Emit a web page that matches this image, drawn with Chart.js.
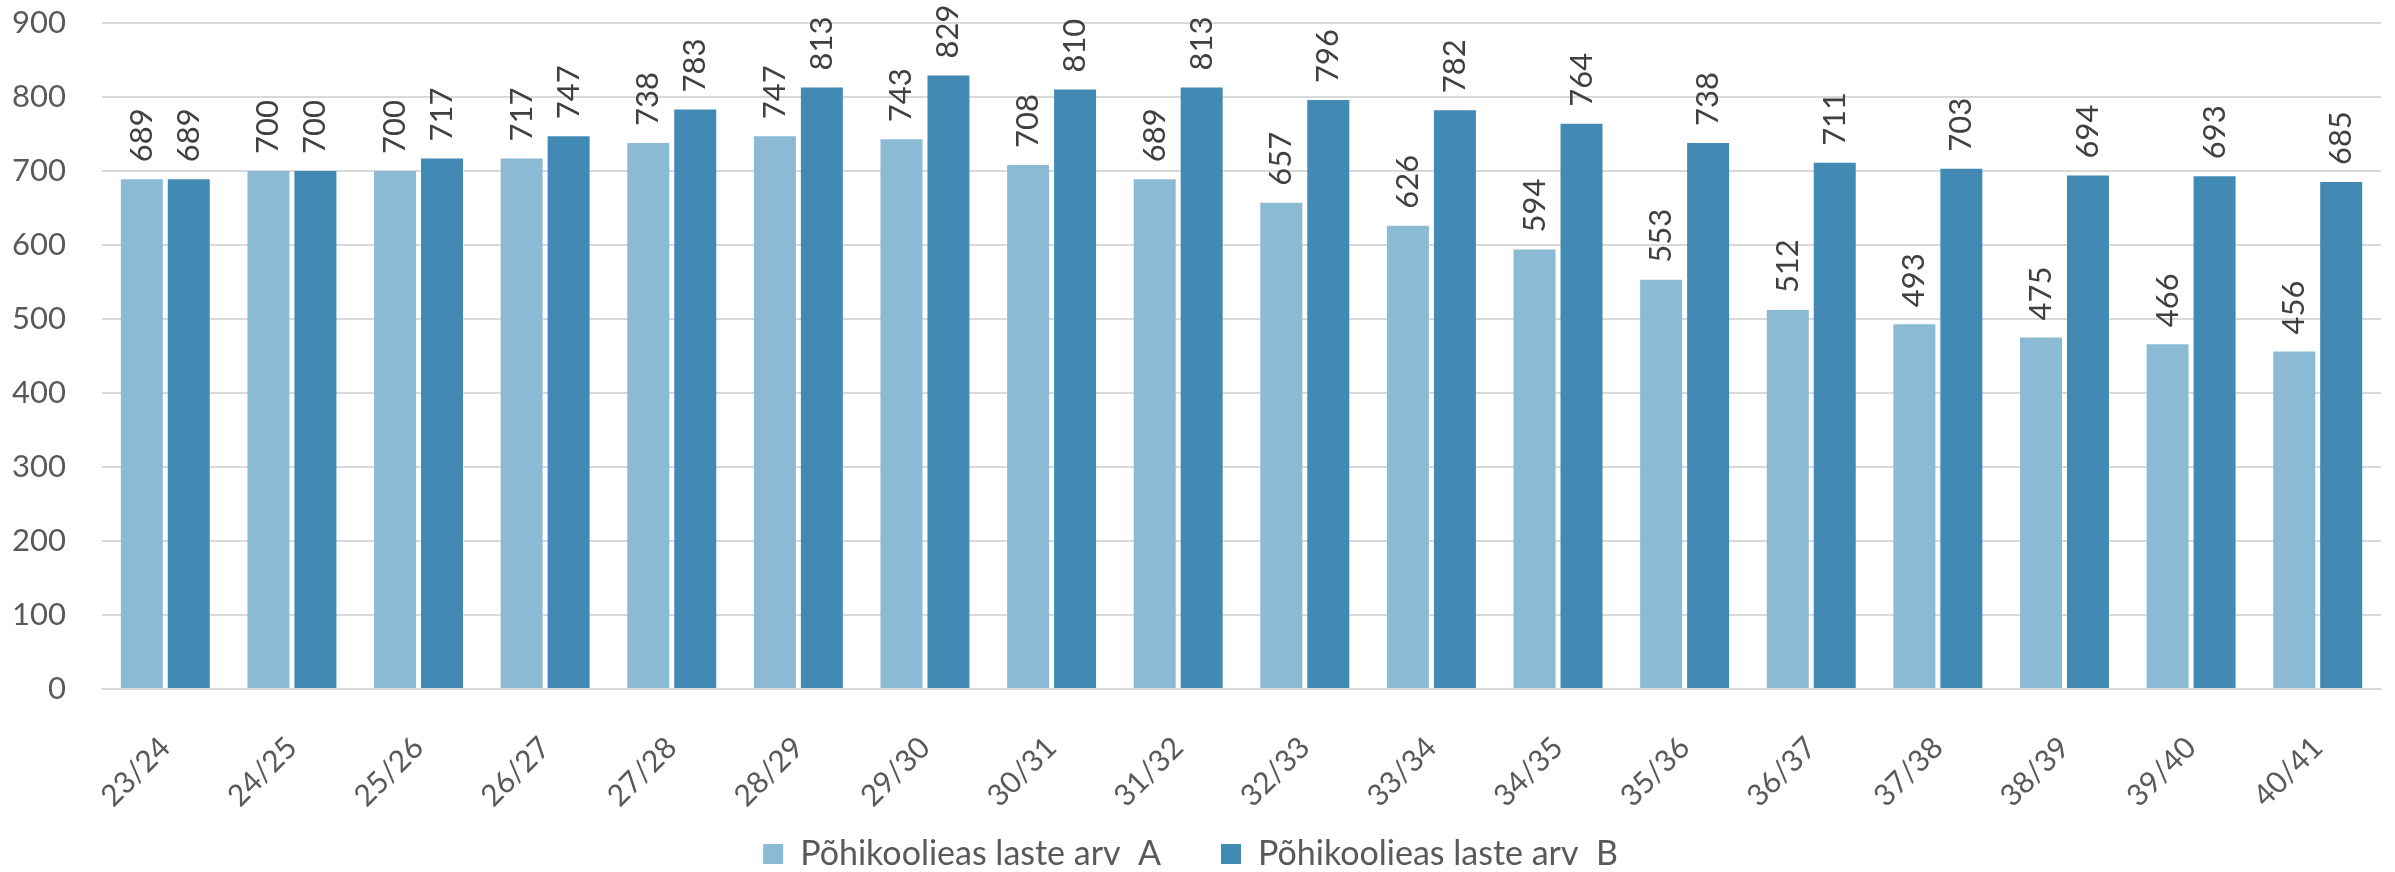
<!DOCTYPE html>
<html>
<head>
<meta charset="utf-8">
<script src="https://cdn.jsdelivr.net/npm/chart.js@4/dist/chart.umd.min.js"></script>
<style>
  html, body { margin: 0; padding: 0; background: #fff; }
  #chart { display: block; }
</style>
</head>
<body>
<canvas id="chart" width="2395" height="872"></canvas>
<script>
// andmed (loetud pildilt)
const years = ['23/24', '24/25', '25/26', '26/27', '27/28', '28/29', '29/30', '30/31', '31/32',
               '32/33', '33/34', '34/35', '35/36', '36/37', '37/38', '38/39', '39/40', '40/41'];
const seriesA = [689, 700, 700, 717, 738, 747, 743, 708, 689, 657, 626, 594, 553, 512, 493, 475, 466, 456];
const seriesB = [689, 700, 717, 747, 783, 813, 829, 810, 813, 796, 782, 764, 738, 711, 703, 694, 693, 685];
const labelA = 'Põhikoolieas laste arv  A';
const labelB = 'Põhikoolieas laste arv  B';

const FONT = 'Lato, "Open Sans", sans-serif';

// väärtused tulpade kohale, pööratud 90 kraadi
const barValues = {
    id: 'barValues',
    afterDatasetsDraw(chart) {
        const ctx = chart.ctx;
        ctx.save();
        ctx.font = '31px ' + FONT;
        ctx.fillStyle = '#404040';
        ctx.textAlign = 'left';
        ctx.textBaseline = 'middle';
        chart.data.datasets.forEach((ds, i) => {
            chart.getDatasetMeta(i).data.forEach((bar, j) => {
                ctx.save();
                ctx.translate(bar.x, bar.y - 17);
                ctx.rotate(-Math.PI / 2);
                ctx.fillText(String(ds.data[j]), 0, 0);
                ctx.restore();
            });
        });
        ctx.restore();
    }
};

// legend veidi ülespoole (x-telje ala peab mahutama pööratud sildid)
const legendShift = {
    id: 'legendShift',
    afterLayout(chart) {
        chart.legend.top -= 32;
        chart.legend.bottom -= 32;
    }
};

new Chart(document.getElementById('chart'), {
    type: 'bar',
    data: {
        labels: years,
        datasets: [{
            label: labelA,
            data: seriesA,
            backgroundColor: '#8BBAD4',
            categoryPercentage: 0.742,
            barPercentage: 0.894
        }, {
            label: labelB,
            data: seriesB,
            backgroundColor: '#428AB4',
            categoryPercentage: 0.742,
            barPercentage: 0.894
        }]
    },
    options: {
        responsive: false,
        animation: false,
        layout: { padding: { top: 23, right: 14, left: 0, bottom: -41 } },
        plugins: {
            tooltip: { enabled: false },
            legend: {
                position: 'bottom',
                labels: {
                    boxWidth: 20,
                    boxHeight: 20,
                    padding: 60,
                    color: '#595959',
                    font: { family: FONT, size: 34 }
                }
            }
        },
        scales: {
            x: {
                grid: { display: false },
                border: { display: true, color: '#D9D9D9', width: 2 },
                ticks: {
                    color: '#595959',
                    font: { family: FONT, size: 30 },
                    minRotation: 45,
                    maxRotation: 45,
                    padding: 33
                },
                // fikseeritud kõrgus, et joonise ala jääks paika
                afterFit(scale) {
                    scale.height = 120;
                    scale.paddingLeft = 0;
                    scale.paddingRight = 0;
                }
            },
            y: {
                min: 0,
                max: 900,
                grid: { color: '#D9D9D9', lineWidth: 2, drawTicks: false },
                border: { display: false },
                ticks: {
                    stepSize: 100,
                    color: '#595959',
                    font: { family: FONT, size: 31 },
                    padding: 36
                },
                afterFit(scale) {
                    scale.width = 102;
                    scale.paddingTop = 0;
                    scale.paddingBottom = 0;
                }
            }
        }
    },
    plugins: [barValues, legendShift]
});
</script>
</body>
</html>
